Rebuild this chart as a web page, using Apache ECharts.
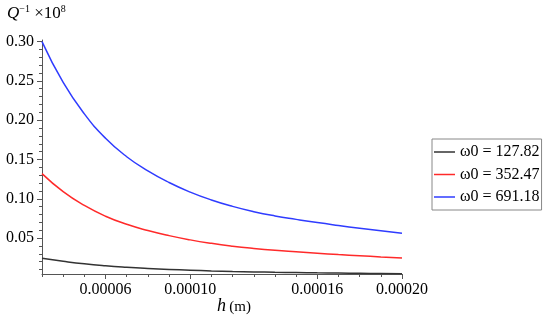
<!DOCTYPE html>
<html>
<head>
<meta charset="utf-8">
<script src="https://cdn.jsdelivr.net/npm/echarts@6/dist/echarts.min.js"></script>
<style>html,body{margin:0;padding:0;background:#fff}#c{width:550px;height:322px}</style>
</head>
<body>
<div id="c"></div>
<script>
// h (m)
var hValues = [0.00003,0.00004,0.00005,0.00006,0.00007,0.00008,0.00009,0.00010,0.00011,0.00012,0.00013,0.00014,0.00015,0.00016,0.00017,0.00018,0.00019,0.00020];
// Q^-1 x 10^8
var black = [0.0243,0.0205,0.0172,0.0147,0.0128,0.0113,0.0101,0.0091,0.0082,0.0075,0.0070,0.0065,0.0062,0.0058,0.0055,0.0052,0.0049,0.0047];
var red   = [0.132,0.109,0.0915,0.0778,0.0675,0.0596,0.0531,0.0477,0.0433,0.0397,0.0368,0.0344,0.0325,0.0307,0.0290,0.0275,0.0260,0.0247];
var blue  = [0.300,0.248,0.208,0.177,0.1535,0.1355,0.1207,0.1085,0.0985,0.0903,0.0836,0.0782,0.0738,0.0697,0.0660,0.0625,0.0592,0.0560];
var seriesNames = ['\u03c90 = 127.82','\u03c90 = 352.47','\u03c90 = 691.18'];
var xTickLabels = [0.00006,0.00010,0.00016,0.00020];
var xMinorTicks = [0.00003,0.00004,0.00005,0.00006,0.00007,0.00008,0.00009,0.00010,0.00011,0.00012,0.00013,0.00014,0.00015,0.00016,0.00017,0.00018,0.00019,0.00020];
var yTickLabels = [0.05,0.10,0.15,0.20,0.25,0.30];
var yMinorTicks = [0.01,0.02,0.03,0.04,0.05,0.06,0.07,0.08,0.09,0.10,0.11,0.12,0.13,0.14,0.15,0.16,0.17,0.18,0.19,0.20,0.21,0.22,0.23,0.24,0.25,0.26,0.27,0.28,0.29,0.30];

function pairs(v){ return hValues.map(function(h,i){ return [h, v[i]]; }); }

var FONT = 'Liberation Serif';
var axisCol = '#555';
var chart = echarts.init(document.getElementById('c'));
var xMin = 0.00003, xMax = 0.0002, yMin = 0.0043, yMax = 0.302;
function lineSeries(name, data, color){
  return { name: name, type: 'line', data: pairs(data), smooth: true,
    symbol: 'none', showSymbol: false,
    lineStyle: { color: color, width: 1.5 }, itemStyle: { color: color } };
}
chart.setOption({
  animation: false,
  backgroundColor: '#fff',
  grid: { left: 42, right: 148, top: 40, bottom: 48, containLabel: false },
  xAxis: [
    { type: 'value', position: 'bottom', min: xMin, max: xMax,
      axisLine: { show: true, onZero: false, lineStyle: { color: axisCol, width: 1 } },
      axisTick: { show: true, length: 3, customValues: xMinorTicks, lineStyle: { color: axisCol } },
      axisLabel: { show: false }, splitLine: { show: false } },
    { type: 'value', position: 'bottom', min: xMin, max: xMax,
      axisLine: { show: false, onZero: false },
      axisTick: { show: true, length: 5, customValues: xTickLabels, lineStyle: { color: axisCol } },
      axisLabel: { show: true, customValues: xTickLabels, margin: 8, color: '#000', fontFamily: FONT, fontSize: 16,
        formatter: function(v){ return v.toFixed(5); } },
      splitLine: { show: false } }
  ],
  yAxis: [
    { type: 'value', position: 'left', min: yMin, max: yMax,
      axisLine: { show: true, onZero: false, lineStyle: { color: axisCol, width: 1 } },
      axisTick: { show: true, length: 3, customValues: yMinorTicks, lineStyle: { color: axisCol } },
      axisLabel: { show: false }, splitLine: { show: false } },
    { type: 'value', position: 'left', min: yMin, max: yMax,
      axisLine: { show: false, onZero: false },
      axisTick: { show: true, length: 5, customValues: yTickLabels, lineStyle: { color: axisCol } },
      axisLabel: { show: true, customValues: yTickLabels, margin: 8, color: '#000', fontFamily: FONT, fontSize: 16,
        formatter: function(v){ return v.toFixed(2); } },
      splitLine: { show: false } }
  ],
  legend: {
    orient: 'vertical', left: 432, top: 139,
    data: seriesNames,
    icon: 'rect',
    itemWidth: 21, itemHeight: 1.5, itemGap: 4.5,
    padding: [4, 2, 4, 2],
    borderColor: '#888', borderWidth: 1,
    textStyle: { fontFamily: FONT, fontSize: 16, color: '#000', lineHeight: 18 }
  },
  series: [
    lineSeries(seriesNames[0], black, '#333333'),
    lineSeries(seriesNames[1], red, '#ff2a2a'),
    lineSeries(seriesNames[2], blue, '#2f3cff')
  ],
  graphic: [
    { type: 'text', left: 7, top: 4,
      style: { text: '{q|Q}{s|\u22121}{n| \u00d710}{s|8}',
        rich: {
          q: { fontFamily: FONT, fontStyle: 'italic', fontSize: 17, fill: '#000', verticalAlign: 'bottom' },
          s: { fontFamily: FONT, fontSize: 10, fill: '#000', padding: [0, 0, 8, 0], verticalAlign: 'bottom' },
          n: { fontFamily: FONT, fontSize: 17, fill: '#000', verticalAlign: 'bottom' }
        } } },
    { type: 'text', left: 217, top: 297,
      style: { text: '{h|h} {m|(m)}',
        rich: {
          h: { fontFamily: FONT, fontStyle: 'italic', fontSize: 18, fill: '#000', verticalAlign: 'bottom' },
          m: { fontFamily: FONT, fontSize: 15, fill: '#000', verticalAlign: 'bottom' }
        } } }
  ]
});
</script>
</body>
</html>
